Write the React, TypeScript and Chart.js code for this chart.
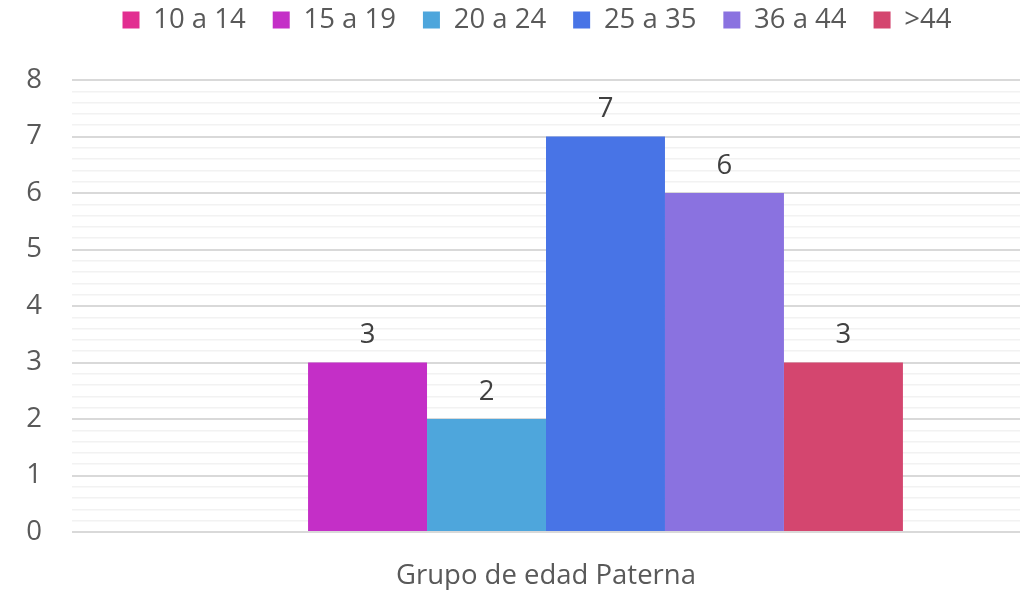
import React, { useEffect, useRef } from "react";
import { Chart, registerables } from "chart.js";

Chart.register(...registerables);

const categories = ["Grupo de edad Paterna"];
const seriesNames = ["10 a 14", "15 a 19", "20 a 24", "25 a 35", "36 a 44", ">44"];
const v10a14: (number | null)[] = [null];
const v15a19: (number | null)[] = [3];
const v20a24: (number | null)[] = [2];
const v25a35: (number | null)[] = [7];
const v36a44: (number | null)[] = [6];
const vMas44: (number | null)[] = [3];
const seriesColors = ["#E22E91", "#C42FC7", "#4EA6DC", "#4874E6", "#8A72E0", "#D4466F"];
const yMin = 0;
const yMax = 8;

const FONT = "'Open Sans', sans-serif";
const FS = 27.5;

const valueLabels = {
  id: "valueLabels",
  afterDatasetsDraw(chart: any) {
    const ctx = chart.ctx;
    ctx.save();
    ctx.font = `${FS}px ${FONT}`;
    ctx.fillStyle = "#404040";
    ctx.textAlign = "center";
    ctx.textBaseline = "middle";
    chart.data.datasets.forEach((ds: any, i: number) => {
      const meta = chart.getDatasetMeta(i);
      meta.data.forEach((el: any, j: number) => {
        const v = ds.data[j];
        if (v === null || v === undefined) return;
        ctx.fillText(String(v), el.x, el.y - 27);
      });
    });
    ctx.restore();
  },
};

// Excel centres the legend over the plot area, not the whole canvas
const legendShift = {
  id: "legendShift",
  afterLayout(chart: any) {
    const l = chart.legend;
    if (l) {
      l.left += 27;
      l.right += 27;
    }
  },
};

const isInt = (v: number) => Math.abs(v - Math.round(v)) < 1e-6;

export default function App() {
  const ref = useRef<HTMLCanvasElement>(null);
  useEffect(() => {
    document.body.style.margin = "0";
    const all = [v10a14, v15a19, v20a24, v25a35, v36a44, vMas44];
    const chart = new Chart(ref.current!, {
      type: "bar",
      data: {
        labels: categories,
        datasets: seriesNames.map((n, i) => ({
          label: n,
          data: all[i],
          backgroundColor: seriesColors[i],
          borderWidth: 0,
          categoryPercentage: 0.753,
          barPercentage: 1,
        })),
      },
      options: {
        animation: false,
        responsive: false,
        maintainAspectRatio: false,
        layout: { padding: { left: 0, right: 5, top: -20.75, bottom: 0 } },
        plugins: {
          legend: {
            position: "top",
            labels: {
              boxWidth: 17,
              boxHeight: 17,
              padding: 27,
              color: "#595959",
              font: { family: FONT, size: FS },
            },
          },
          title: {
            display: true,
            text: "",
            weight: 500,
            font: { size: 1, lineHeight: 1 },
            padding: { top: 0, bottom: 35.25 },
          },
          tooltip: { enabled: false },
        },
        scales: {
          x: {
            grid: { display: false, drawTicks: false },
            border: { display: false },
            ticks: { color: "#595959", font: { family: FONT, size: FS }, padding: 28 },
            afterFit: (s: any) => {
              s.height = 58;
            },
          },
          y: {
            min: yMin,
            max: yMax,
            border: { display: false },
            grid: {
              color: (c: any) => (isInt(c.tick ? c.tick.value : 0) ? "#D9D9D9" : "#F2F2F2"),
              lineWidth: (c: any) => (isInt(c.tick ? c.tick.value : 0) ? 2 : 1.5),
              drawTicks: false,
            },
            ticks: {
              stepSize: 0.2,
              autoSkip: false,
              padding: 30,
              color: "#595959",
              font: { family: FONT, size: FS },
              callback: (val: any) => {
                const v = Number(val);
                return isInt(v) ? String(Math.round(v)) : "";
              },
            },
            afterFit: (s: any) => {
              s.width = 72;
            },
          },
        },
      },
      plugins: [valueLabels, legendShift],
    });
    return () => chart.destroy();
  }, []);
  return <canvas ref={ref} width={1025} height={590} style={{ display: "block" }} />;
}
